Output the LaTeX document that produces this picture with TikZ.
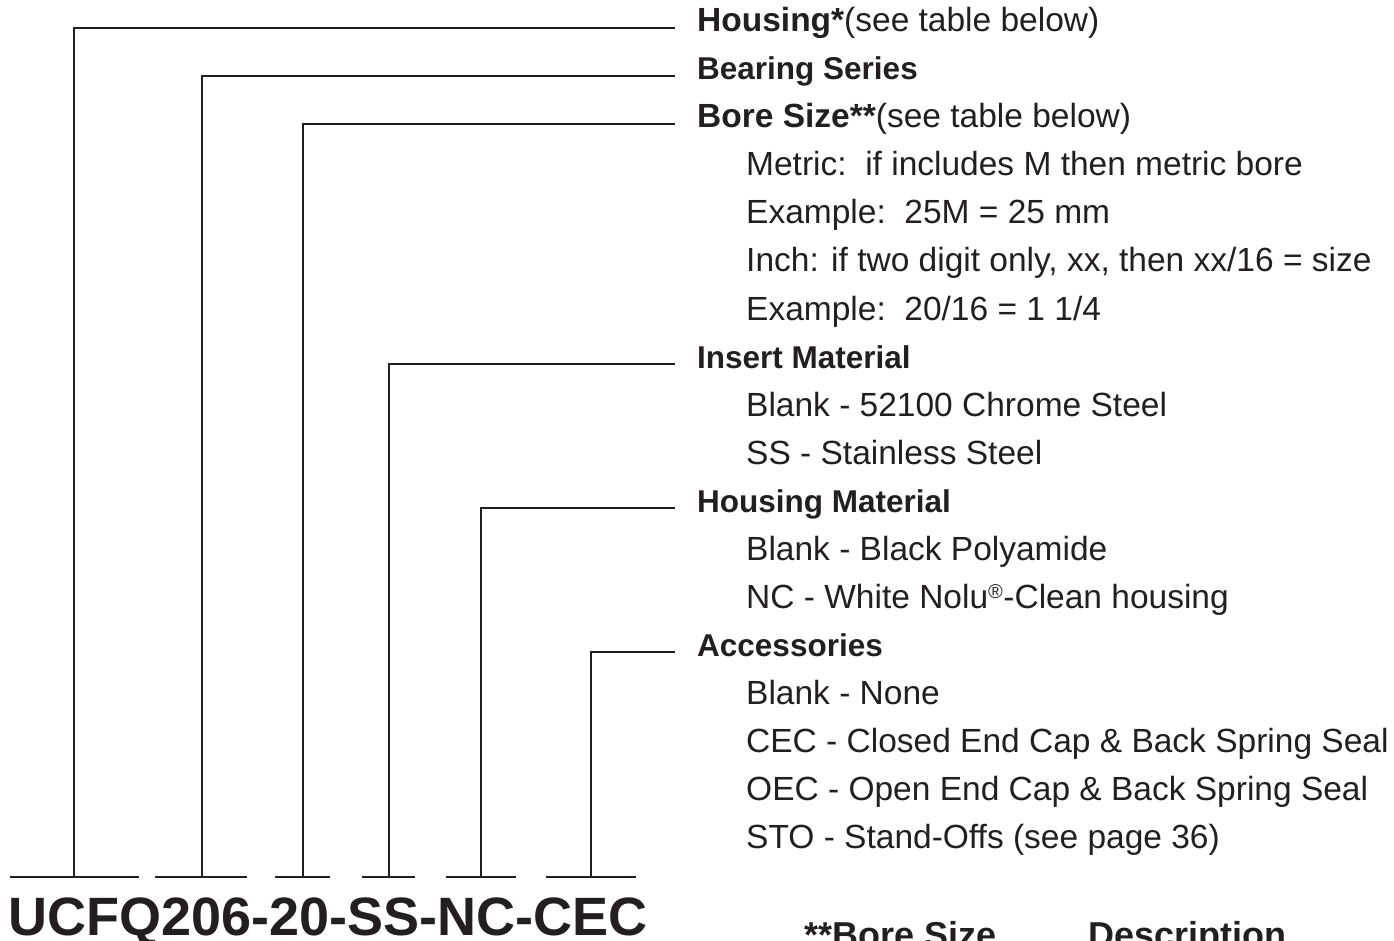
\documentclass[tikz,border=0pt]{standalone}
\usepackage{fontspec}
\setmainfont{Liberation Sans}
\definecolor{ink}{HTML}{231F20}
\begin{document}
\begin{tikzpicture}[x=1pt,y=-1pt,
  label/.style={anchor=base west,inner sep=0pt,text=ink,font=\fontsize{33.5}{40}\selectfont},
  head/.style={label,font=\bfseries\fontsize{31.5}{40}\selectfont},
  code/.style={anchor=base west,inner sep=0pt,text=ink,font=\bfseries\fontsize{54}{60}\selectfont},
  colhead/.style={label,font=\bfseries\fontsize{36}{40}\selectfont},
  lead/.style={draw=ink,line width=2.8pt,line join=miter}
]
  \useasboundingbox (0,0) rectangle (1394,941);
  \clip (0,0) rectangle (1394,941);

  % headings and options
  \node[label] (housing) at (697,32) {\textbf{Housing*}(see table below)};
  \node[head] (series) at (697,80) {Bearing Series};
  \node[label] (bore) at (697,128) {\textbf{Bore Size**}(see table below)};
  \node[label] (metric) at (746,176) {Metric:\ \ if includes M then metric bore};
  \node[label] (mex) at (746,224) {Example:\ \ 25M = 25 mm};
  \node[label] (inch) at (746,272) {Inch: if two digit only, xx, then xx/16 = size};
  \node[label] (iex) at (746,320) {Example:\ \ 20/16 = 1 1/4};
  \node[head] (insert) at (697,368) {Insert Material};
  \node[label] (chrome) at (746,416) {Blank - 52100 Chrome Steel};
  \node[label] (stain) at (746,464) {SS - Stainless Steel};
  \node[head] (material) at (697,512) {Housing Material};
  \node[label] (poly) at (746,560) {Blank - Black Polyamide};
  \node[label] (nolu) at (746,608) {NC - White Nolu\textsuperscript{\fontsize{20}{20}\selectfont ®}-Clean housing};
  \node[head] (accessories) at (697,656) {Accessories};
  \node[label] (none) at (746,704) {Blank - None};
  \node[label] (cec) at (746,752) {CEC - Closed End Cap \& Back Spring Seal};
  \node[label] (oec) at (746,800) {OEC - Open End Cap \& Back Spring Seal};
  \node[label] (sto) at (746,848) {STO - Stand-Offs (see page 36)};

  % part number
  \node[code] (number) at (8,935) {UCFQ206-20-SS-NC-CEC};
  \node[colhead] (boresize) at (804,947) {**Bore Size};
  \node[colhead] (desc) at (1088,947) {Description};

  % underlines and leaders
  \foreach \a/\b in {10/139,155/247,275/330,362/415,446/516,546/636}
    \draw[lead] (\a,877) -- (\b,877);
  \foreach \x/\n in {74/housing,202/series,303/bore,389/insert,481/material,591/accessories}
    \draw[lead] (\x,877) |- ([xshift=-22pt,yshift=4pt]\n.base west);
\end{tikzpicture}
\end{document}
